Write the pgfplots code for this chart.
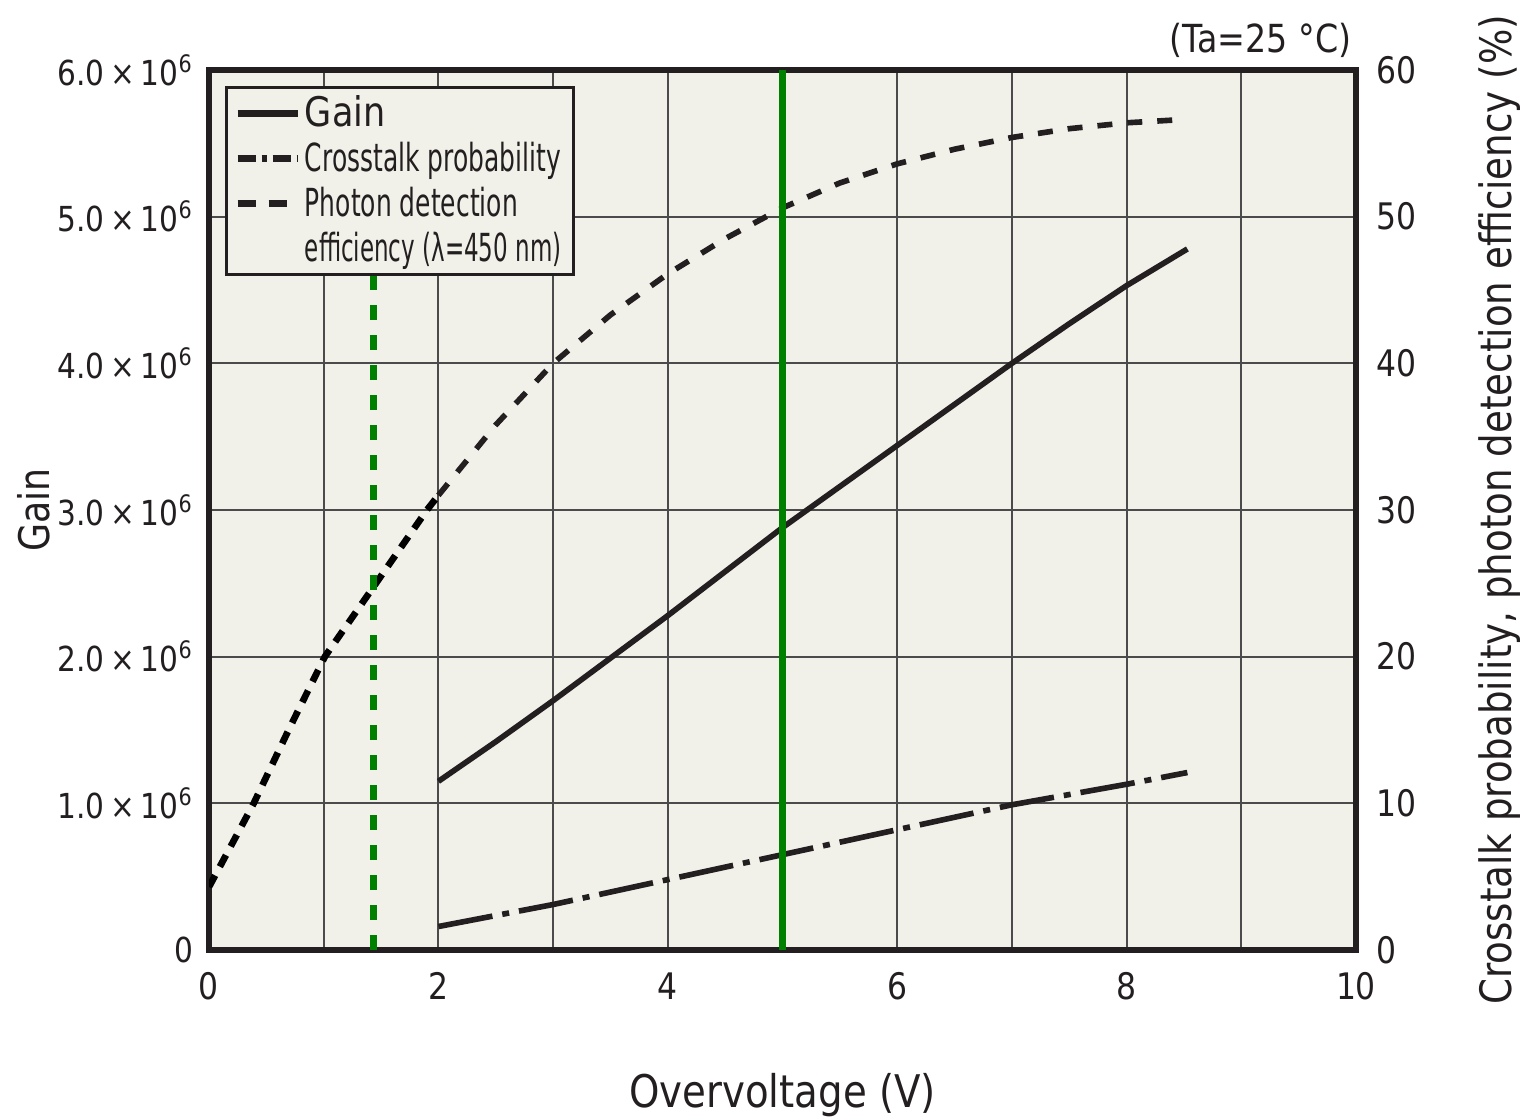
\documentclass[border=0pt]{standalone}
\usepackage{fontspec}
\setmainfont{DejaVu Sans}[FakeStretch=0.86]
\newfontfamily\legfont{DejaVu Sans}[FakeStretch=0.646]
\usepackage{pgfplots}
\pgfplotsset{compat=1.18}

\definecolor{bg}{RGB}{242,241,233}
\definecolor{ink}{RGB}{35,31,32}
\definecolor{grn}{RGB}{0,128,0}
\definecolor{gridc}{RGB}{75,75,75}

\pgfplotsset{
  base/.style={
    at={(20.9mm,16.7mm)}, anchor=south west,
    scale only axis, width=114.7mm, height=88mm,
    xmin=0, xmax=10,
    /pgf/number format/assume math mode=true,
    major tick length=0pt,
    ticklabel style={font=\fontsize{10.4}{12}\selectfont, text=ink},
  }
}

\begin{document}
\begin{tikzpicture}
\useasboundingbox (0,0) rectangle (152.6mm,111.7mm);

% left axis: gain (x 10^6)
\begin{axis}[base,
  ymin=0, ymax=6,
  axis background/.style={fill=bg},
  axis line style={line width=1.7pt, ink},
  grid=major, grid style={gridc, line width=0.6pt},
  xtick={0,1,...,10}, xticklabels={0,,2,,4,,6,,8,,10},
  xticklabel style={yshift=-1mm},
  ytick={0,1,...,6},
  yticklabel style={font=\fontsize{9.8}{12}\selectfont, xshift=-0.3mm},
  yticklabels={0,{1.0\,×\,10\textsuperscript{6}},{2.0\,×\,10\textsuperscript{6}},
    {3.0\,×\,10\textsuperscript{6}},{4.0\,×\,10\textsuperscript{6}},
    {5.0\,×\,10\textsuperscript{6}},{6.0\,×\,10\textsuperscript{6}}},
  ylabel={Gain},
  ylabel style={at={(axis description cs:-0.153,0.5)}, anchor=center,
    font=\fontsize{12}{14}\selectfont, text=ink},
  xlabel={Overvoltage (V)},
  xlabel style={at={(axis description cs:0.5,-0.165)}, anchor=center,
    font=\fontsize{12.8}{15}\selectfont, text=ink},
]
\addplot[ink, line width=1.6pt] coordinates {
  (2,1.15)(2.5,1.42)(3,1.70)(3.5,1.99)(4,2.28)(4.5,2.58)(5,2.88)(5.5,3.16)
  (6,3.44)(6.5,3.72)(7,4.00)(7.5,4.27)(8,4.53)(8.53,4.78)
};
\end{axis}

% right axis: crosstalk probability and PDE (%)
\begin{axis}[base, name=ax2,
  ymin=0, ymax=60,
  axis x line=none, axis y line*=right,
  axis line style={line width=1.7pt, ink},
  ytick={0,10,...,60},
  yticklabel style={xshift=0.8mm},
  ylabel={Crosstalk probability, photon detection efficiency (\%)},
  ylabel style={at={(axis description cs:1.1256,0.5)}, anchor=center,
    font=\fontsize{12.3}{14}\selectfont, text=ink},
  legend cell align=left,
  legend style={at={(axis description cs:0,1)}, anchor=north west,
    xshift=1.6mm, yshift=-1.6mm, fill=bg, draw=ink, line width=0.9pt,
    font=\legfont\fontsize{11}{12}\selectfont, text=ink,
    row sep=0pt, inner xsep=0.8mm, inner ysep=0.35mm,
    nodes={inner sep=0.4mm, text height=3.1mm, text depth=0.6mm}},
]
\addlegendimage{ink, line width=1.8pt}
\addlegendentry{{\rmfamily\fontsize{11.6}{12}\selectfont Gain}}
\addlegendimage{ink, line width=1.8pt, dash pattern=on 1.8mm off 0.6mm on 0.5mm off 0.6mm}
\addlegendentry{Crosstalk probability}
\addlegendimage{ink, line width=1.8pt, dash pattern=on 1.8mm off 1.3mm}
\addlegendentry{Photon detection}
\addlegendimage{empty legend}
\addlegendentry{\scalebox{0.92}[1]{efficiency (λ=450 nm)}}

% crosstalk probability
\addplot[ink, line width=1.6pt, forget plot,
  dash pattern=on 5.5mm off 1mm on 0.7mm off 1mm] coordinates {
  (2,1.6)(3,3.1)(4,4.8)(5,6.5)(6,8.2)(7,9.9)(8,11.3)(8.53,12.1)
};
% photon detection efficiency
\addplot[black, line width=1.9pt, forget plot,
  dash pattern=on 1.3mm off 1mm] coordinates {
  (0,4.3)(0.39,10)(0.7,15.1)(1.01,20)(1.42,24.6)(1.9,30)(2,31)
};
\addplot[ink, line width=1.6pt, forget plot,
  dash pattern=on 1.5mm off 1.5mm] coordinates {
  (2,31)(2.5,35.8)(3,40)(3.5,43.3)(4,46.1)(4.5,48.5)(5,50.6)(5.5,52.3)
  (6,53.6)(6.5,54.6)(7,55.4)(7.5,56.0)(8,56.4)(8.44,56.6)
};
% green markers
\addplot[grn, line width=2pt, forget plot,
  dash pattern=on 1.5mm off 1.5mm] coordinates {(1.43,0)(1.43,46.3)};
\addplot[grn, line width=2.1pt, forget plot] coordinates {(5,0)(5,60)};
\end{axis}

\node[anchor=base east, inner sep=0pt, font=\fontsize{11}{13}\selectfont, text=ink]
  at ([xshift=-0.4mm, yshift=1.8mm]ax2.north east) {(Ta=25 °C)};
\end{tikzpicture}
\end{document}
